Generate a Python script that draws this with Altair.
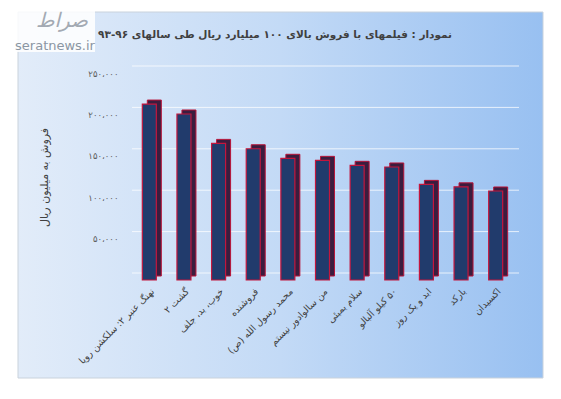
import altair as alt
import pandas as pd

films = [
    "نهنگ عنبر ۲: سلکشن رویا",
    "گشت ۲",
    "خوب، بد، جلف",
    "فروشنده",
    "محمد رسول الله (ص)",
    "من سالوادور نیستم",
    "سلام بمبئی",
    "۵۰ کیلو آلبالو",
    "ابد و یک روز",
    "بارکد",
    "اکسیدان",
]
sales = [212500, 200500, 165000, 158500, 147000, 144500, 138500, 136500, 115500, 112500, 107500]

tick_values = [50000, 100000, 150000, 200000, 250000]
tick_labels = ["۵۰،۰۰۰", "۱۰۰،۰۰۰", "۱۵۰،۰۰۰", "۲۰۰،۰۰۰", "۲۵۰،۰۰۰"]
grid_values = [0, 50000, 100000, 150000, 200000, 250000]

title_text = "نمودار : فیلمهای با فروش بالای ۱۰۰ میلیارد ریال طی سالهای ۹۶-۹۳"
y_title = "فروش به میلیون ریال"

RLM = "\u200f"
df = pd.DataFrame({"film": [RLM + f + RLM for f in films], "sales": sales})
film_order = list(df["film"])

label_expr = "''"
for v, l in zip(reversed(tick_values), reversed(tick_labels)):
    label_expr = f"datum.value == {v} ? '{l}' : " + label_expr

FONT = "DejaVu Sans"
W, H = 381, 207
yscale = alt.Scale(domain=[0, 250000], nice=False, zero=True)
yaxis = alt.Axis(values=tick_values, labelExpr=label_expr, title=y_title,
                 labelFont=FONT, labelFontSize=8.5, labelColor="#595959",
                 ticks=False, domain=False, grid=False, labelPadding=14,
                 titleFont=FONT, titleFontSize=11, titleFontWeight="normal",
                 titleColor="#404040", titleAngle=-90, titleX=-88, titleY=104,
                 titleBaseline="middle", titleAlign="center", zindex=1)

bg = alt.Chart(alt.Data(values=[{}])).mark_rect(
    clip=False,
    stroke="#c9d2dc",
    strokeWidth=1,
    fill=alt.Gradient(
        gradient="linear",
        x1=0, x2=1, y1=0, y2=0,
        stops=[alt.GradientStop(offset=0, color="#e2ecf9"),
               alt.GradientStop(offset=0.5, color="#c3daf6"),
               alt.GradientStop(offset=1, color="#98c0f1")],
    ),
).encode(x=alt.value(-114), x2=alt.value(411), y=alt.value(-61), y2=alt.value(305))

logo_bg = alt.Chart(alt.Data(values=[{}])).mark_rect(
    clip=False, fill="white", opacity=0.85
).encode(x=alt.value(-117), x2=alt.value(-37), y=alt.value(-73), y2=alt.value(-21))

grid = alt.Chart(pd.DataFrame({"sales": grid_values})).mark_rule(
    color="white", opacity=0.75, strokeWidth=1, xOffset=6, yOffset=-7
).encode(y=alt.Y("sales:Q", scale=yscale, axis=yaxis))

base = alt.Chart(df).encode(
    x=alt.X("film:N", sort=film_order,
            scale=alt.Scale(paddingInner=0, paddingOuter=0),
            axis=alt.Axis(title=None, labelAngle=-45, labelFont=FONT, labelFontSize=9.5,
                          labelColor="#404040", ticks=False, domain=False,
                          labelPadding=6, labelLimit=220, zindex=1)),
    y=alt.Y("sales:Q", scale=yscale, axis=yaxis),
)

side = base.mark_bar(size=14, xOffset=5, yOffset=-4, fill="#3b1d3f",
                     stroke="#b8153a", strokeWidth=1)
front = base.mark_bar(size=14, fill="#213b6c", stroke="#c4163d", strokeWidth=1.2)

title = alt.Chart(alt.Data(values=[{}])).mark_text(
    clip=False, text=RLM + title_text + RLM, font=FONT, fontSize=10.5, fontWeight="bold",
    color="#404040", align="right", baseline="middle"
).encode(x=alt.value(320), y=alt.value(-38))

wm1 = alt.Chart(alt.Data(values=[{}])).mark_text(
    clip=False, text="seratnews.ir", font=FONT, fontSize=13, color="#8b96a3"
).encode(x=alt.value(-77), y=alt.value(-27))
wm2 = alt.Chart(alt.Data(values=[{}])).mark_text(
    clip=False, text="صراط", font=FONT, fontSize=20, fontStyle="italic", color="#a3aab3"
).encode(x=alt.value(-70), y=alt.value(-52))

chart = alt.layer(bg, logo_bg, grid, side, front, title, wm1, wm2).properties(
    width=W,
    height=H,
    autosize=alt.AutoSizeParams(type="none"),
    padding={"left": 124, "top": 65, "right": 37, "bottom": 105},
    background="white",
).configure_view(stroke=None)

chart.save("out.html", embed_options={"renderer": "svg", "actions": False})
